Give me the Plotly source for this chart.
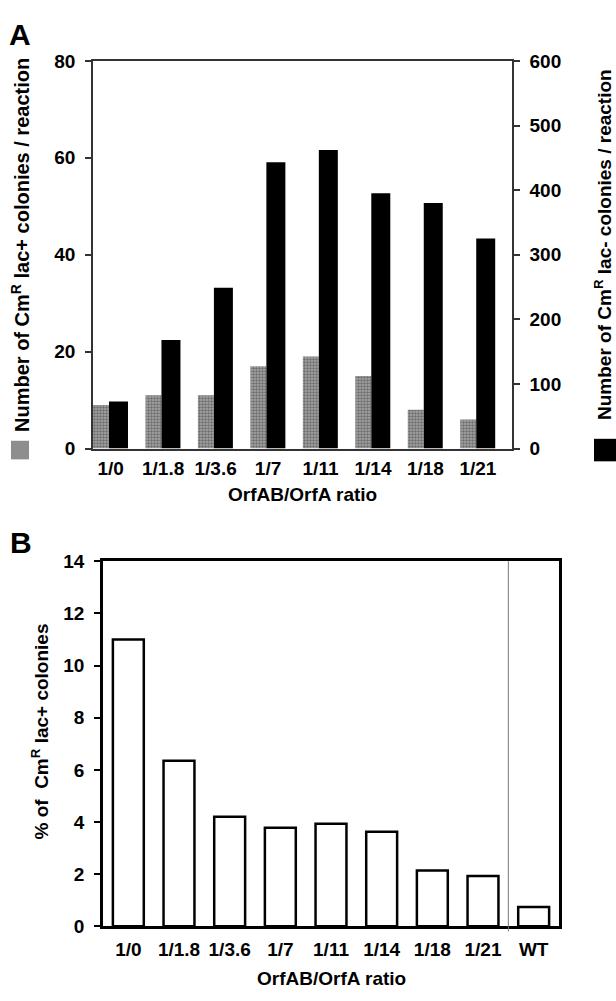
import plotly.graph_objects as go

# ---------------- data ----------------
categories_a = ["1/0", "1/1.8", "1/3.6", "1/7", "1/11", "1/14", "1/18", "1/21"]
lac_plus_per_reaction = [9, 11, 11, 17, 19, 15, 8, 6]          # left axis (grey)
lac_minus_per_reaction = [73, 168, 249, 443, 462, 395, 380, 325]  # right axis (black)

categories_b = ["1/0", "1/1.8", "1/3.6", "1/7", "1/11", "1/14", "1/18", "1/21", "WT"]
pct_lac_plus = [11.0, 6.35, 4.2, 3.78, 3.93, 3.63, 2.14, 1.93, 0.74]

left_ticks_a = [0, 20, 40, 60, 80]
right_ticks_a = [0, 100, 200, 300, 400, 500, 600]
ticks_b = [0, 2, 4, 6, 8, 10, 12, 14]

FONT = "Liberation Sans, Arial, sans-serif"
W, H = 616, 1001

def px_x(v):
    return v / W

def px_y(v):
    return 1 - v / H

xa = list(range(len(categories_a)))
xb = list(range(len(categories_b)))

fig = go.Figure()

fig.add_trace(go.Bar(
    x=xa, y=lac_plus_per_reaction, xaxis="x", yaxis="y",
    width=0.305, offset=-0.337,
    marker=dict(color="#808080",
                pattern=dict(shape=".", fgcolor="#2a2a2a", bgcolor="#b0b0b0",
                             size=3, solidity=0.6),
                line=dict(width=0)),
    showlegend=False,
))
fig.add_trace(go.Bar(
    x=xa, y=lac_minus_per_reaction, xaxis="x", yaxis="y2",
    width=0.362, offset=-0.032,
    marker=dict(color="black", line=dict(width=0)),
    showlegend=False,
))
fig.add_trace(go.Bar(
    x=xb, y=pct_lac_plus, xaxis="x2", yaxis="y3",
    width=0.61,
    marker=dict(color="white", line=dict(color="black", width=2.5)),
    showlegend=False,
))

tickfont = dict(family=FONT, size=19, color="black", weight="bold")

fig.update_layout(
    width=W, height=H,
    margin=dict(l=0, r=0, t=0, b=0),
    paper_bgcolor="white", plot_bgcolor="white",
    barmode="overlay",
    xaxis=dict(
        domain=[px_x(93), px_x(512)], anchor="y",
        range=[-0.337, 7.65],
        tickmode="array", tickvals=xa, ticktext=categories_a,
        showline=True, linecolor="#333", linewidth=1.5, mirror=True,
        ticks="", showgrid=False, zeroline=False, tickfont=tickfont,
        ticklabelstandoff=2,
    ),
    yaxis=dict(
        domain=[px_y(448), px_y(52)], anchor="x",
        range=[0, 80], tickmode="array", tickvals=left_ticks_a,
        ticks="outside", ticklen=6, tickwidth=1.5, tickcolor="#333",
        showline=True, linecolor="#333", linewidth=1.5,
        showgrid=False, zeroline=False, tickfont=tickfont,
        ticklabelstandoff=6,
    ),
    yaxis2=dict(
        overlaying="y", side="right", anchor="x",
        range=[0, 600], tickmode="array", tickvals=right_ticks_a,
        ticks="outside", ticklen=6, tickwidth=1.5, tickcolor="#333",
        showline=True, linecolor="#333", linewidth=1.5,
        showgrid=False, zeroline=False, tickfont=tickfont,
        ticklabelstandoff=6,
    ),
    xaxis2=dict(
        domain=[px_x(103), px_x(559)], anchor="y3",
        range=[-0.5, 8.5],
        tickmode="array", tickvals=xb, ticktext=categories_b,
        showline=True, linecolor="black", linewidth=2.5, mirror=True,
        ticks="", showgrid=False, zeroline=False, tickfont=tickfont,
        ticklabelstandoff=4,
    ),
    yaxis3=dict(
        domain=[px_y(936), px_y(563)], anchor="x2",
        range=[0, 14], tickmode="array", tickvals=ticks_b,
        ticks="outside", ticklen=6, tickwidth=1.5, tickcolor="black",
        showline=True, linecolor="black", linewidth=2.5, mirror=True,
        showgrid=False, zeroline=False, tickfont=tickfont,
        ticklabelstandoff=6,
    ),
)

# separator before WT
fig.add_shape(type="line", xref="x2", yref="y3 domain",
              x0=7.5, x1=7.5, y0=-0.014, y1=1,
              line=dict(color="#777", width=1))

# legend squares beside axis titles
fig.add_shape(type="rect", xref="paper", yref="paper",
              x0=px_x(11), x1=px_x(29), y0=px_y(459), y1=px_y(440),
              fillcolor="#8e8e8e", line=dict(width=0))
fig.add_shape(type="rect", xref="paper", yref="paper",
              x0=px_x(594), x1=px_x(616), y0=px_y(461), y1=px_y(438),
              fillcolor="black", line=dict(width=0))

def ann(text, x, y, size, angle=0):
    fig.add_annotation(text=text, x=x, y=y, xref="paper", yref="paper",
                       xanchor="center", yanchor="middle", showarrow=False,
                       textangle=angle,
                       font=dict(family=FONT, size=size, color="black", weight="bold"))

ann("A", px_x(20), px_y(25), 30)
ann("B", px_x(21), px_y(544), 30)
ann("Number of Cm<sup>R</sup> lac+ colonies / reaction", px_x(21), px_y(240), 20, -90)
ann("Number of Cm<sup>R</sup> lac- colonies / reaction", px_x(603), px_y(240), 19, -90)
ann("OrfAB/OrfA ratio", px_x(302), px_y(495), 19)
ann("% of  Cm<sup>R</sup> lac+ colonies", px_x(40), px_y(737), 19, -90)
ann("OrfAB/OrfA ratio", px_x(331), px_y(989), 19)

fig.write_html(
    "out.html",
    config={"displayModeBar": False},
    post_script="document.body.style.margin='0';document.body.style.overflow='hidden';",
)
